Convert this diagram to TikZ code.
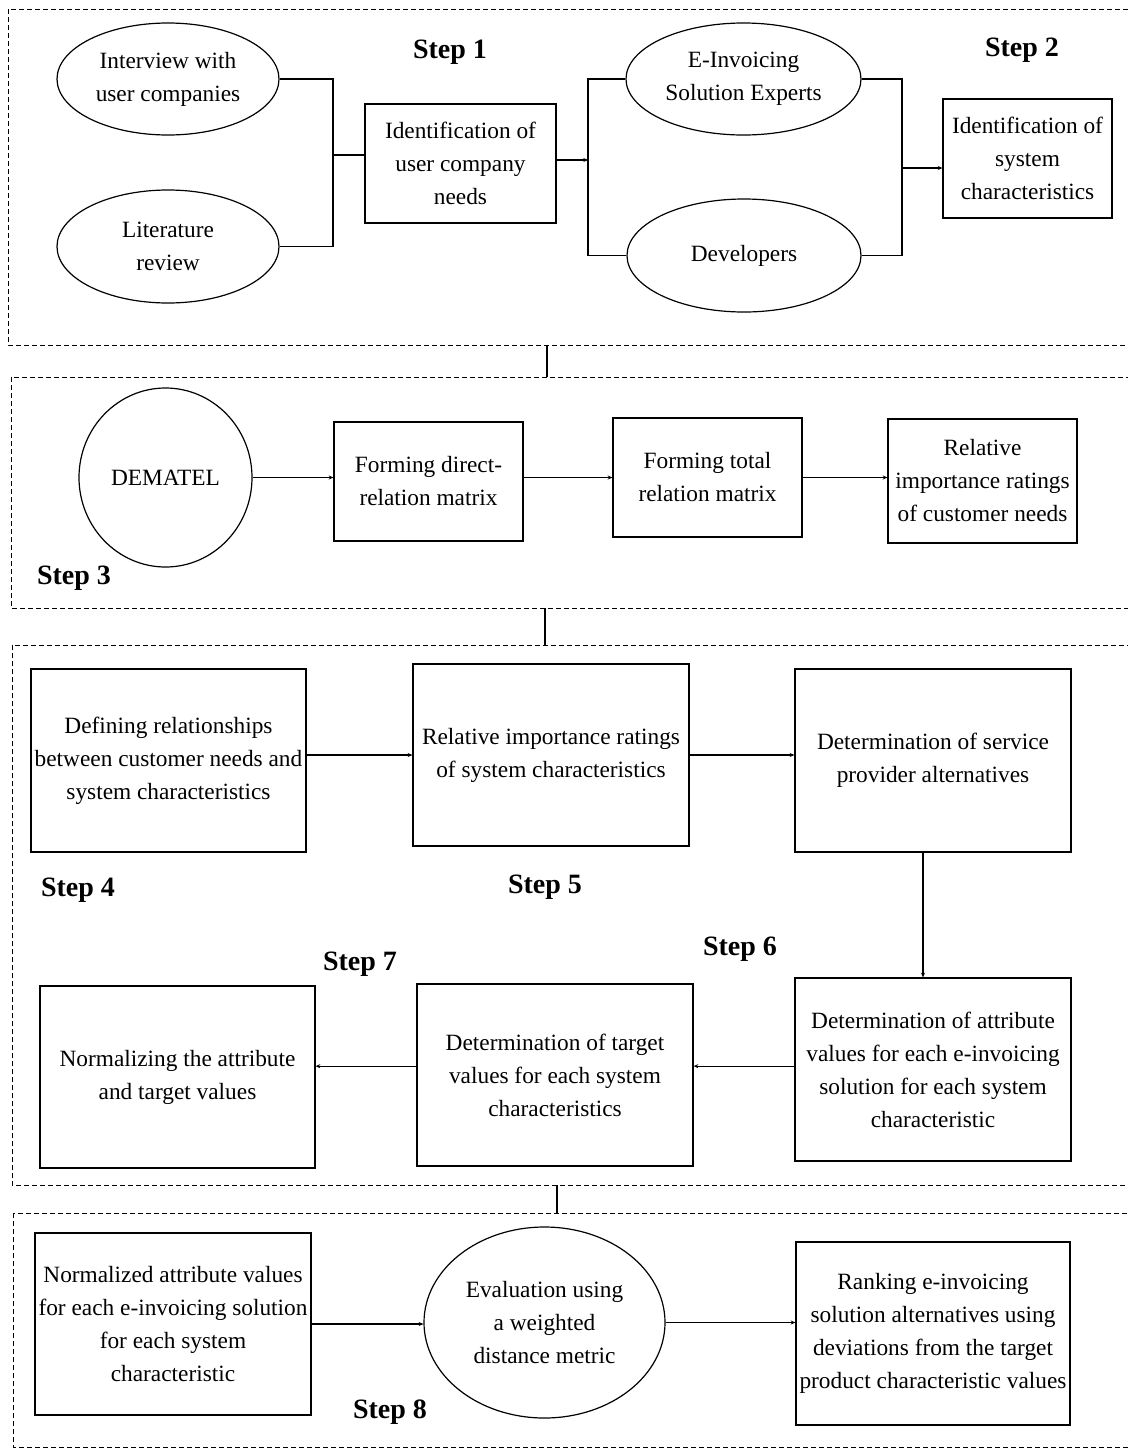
\documentclass[tikz,border=0pt]{standalone}
\usepackage{fontspec}
\setmainfont{Liberation Serif}
\usetikzlibrary{shapes.geometric,arrows.meta}
\newlength{\upx}
\setlength{\upx}{0.75pt}
\begin{document}
\begin{tikzpicture}[x=0.75pt,y=-0.75pt,
  txt/.style={font=\fontsize{17.5}{24.75}\selectfont, align=center, inner sep=0pt},
  box/.style={txt, draw, line width=0.9pt, rectangle},
  oval/.style={txt, draw, line width=0.9pt, ellipse},
  steplabel/.style={font=\fontsize{21}{24}\selectfont\bfseries, inner sep=0pt},
  dashbox/.style={line width=0.7pt, dash pattern=on 3.5pt off 2.5pt},
  conn/.style={line width=0.9pt},
  arr/.style={line width=0.9pt, -{Stealth[length=3.5pt,width=3pt]}}]
\useasboundingbox (0,0) rectangle (1128,1450);
\clip (0,0) rectangle (1128,1450);
\fill[white] (0,0) rectangle (1128,1450);

% section frames
\draw[dashbox] (8,9) rectangle (1140,345);
\draw[dashbox] (11,377) rectangle (1140,608);
\draw[dashbox] (12,645) rectangle (1140,1185);
\draw[dashbox] (13,1213) rectangle (1140,1447);
\coordinate (s1a) at (547,345); \coordinate (s1b) at (547,377);
\coordinate (s2a) at (545,608); \coordinate (s2b) at (545,645);
\coordinate (s3a) at (557,1185); \coordinate (s3b) at (557,1213);
\draw[conn] (s1a) -- (s1b);
\draw[conn] (s2a) -- (s2b);
\draw[conn] (s3a) -- (s3b);

% ---------- Section 1 ----------
\node[oval, minimum width=222\upx, minimum height=112\upx] (int) at (168,79) {Interview with\\user companies};
\node[oval, minimum width=222\upx, minimum height=113\upx] (lit) at (168,246.5) {Literature\\review};
\node[box, minimum width=191\upx, minimum height=119\upx] (idn) at (460.5,163.5) {Identification of\\user company\\needs};
\node[oval, minimum width=235\upx, minimum height=112\upx] (ex) at (743.5,79) {E-Invoicing\\Solution Experts};
\node[oval, minimum width=234\upx, minimum height=113\upx] (dev) at (744,255.5) {Developers};
\node[box, minimum width=169\upx, minimum height=119\upx] (sys) at (1027.5,158.5) {Identification of\\system\\characteristics};
\node[steplabel] (st1) at (450,52) {Step 1};
\node[steplabel] (st2) at (1022,50) {Step 2};

\coordinate (j1) at (333,155);
\coordinate (j2) at (588,160);
\coordinate (j3) at (902,168);
\draw[conn] (int.east) -| (j1) |- (lit.east);
\draw[conn] (j1) -- (j1 -| idn.west);
\draw[arr] (idn.east |- j2) -- (j2);
\draw[conn] (ex.west) -| (j2) |- (dev.west);
\draw[conn] (ex.east) -| (j3) |- (dev.east);
\draw[arr] (j3) -- (j3 -| sys.west);

% ---------- Section 2 ----------
\node[oval, minimum width=173\upx, minimum height=179\upx] (dem) at (165.5,477.5) {DEMATEL};
\node[box, minimum width=189\upx, minimum height=119\upx] (fdr) at (428.5,481.5) {Forming direct-\\relation matrix};
\node[box, minimum width=189\upx, minimum height=119\upx] (ftr) at (707.5,477.5) {Forming total\\relation matrix};
\node[box, minimum width=189\upx, minimum height=124\upx] (rir) at (982.5,481) {Relative\\importance ratings\\of customer needs};
\node[steplabel] (st3) at (74,578) {Step 3};
\draw[arr] (dem.east) -- (dem.east -| fdr.west);
\draw[arr] (ftr.west -| fdr.east) -- (ftr.west);
\draw[arr] (ftr.east) -- (ftr.east -| rir.west);

% ---------- Section 3 ----------
\node[box, minimum width=275\upx, minimum height=183\upx] (def) at (168.5,760.5) {Defining relationships\\between customer needs and\\system characteristics};
\node[box, minimum width=276\upx, minimum height=182\upx] (ri2) at (551,755) {Relative importance ratings\\of system characteristics};
\node[box, minimum width=276\upx, minimum height=183\upx] (sp) at (933,760.5) {Determination of service\\provider alternatives};
\node[box, minimum width=276\upx, minimum height=183\upx] (at) at (933,1069.5) {Determination of attribute\\values for each e-invoicing\\solution for each system\\characteristic};
\node[box, minimum width=276\upx, minimum height=182\upx] (tv) at (555,1075) {Determination of target\\values for each system\\characteristics};
\node[box, minimum width=275\upx, minimum height=182\upx] (nm) at (177.5,1077) {Normalizing the attribute\\and target values};
\node[steplabel] (st4) at (78,890) {Step 4};
\node[steplabel] (st5) at (545,887) {Step 5};
\node[steplabel] (st6) at (740,949) {Step 6};
\node[steplabel] (st7) at (360,964) {Step 7};
\draw[arr] (ri2.west -| def.east) -- (ri2.west);
\draw[arr] (ri2.east) -- (ri2.east -| sp.west);
\draw[arr] ([xshift=-7.5pt]sp.south) -- ([xshift=-7.5pt]at.north);
\draw[arr] ([yshift=2.5pt]at.west) -- ([yshift=2.5pt]at.west -| tv.east);
\draw[arr] ([yshift=2.5pt]at.west -| tv.west) -- ([yshift=2.5pt]at.west -| nm.east);

% ---------- Section 4 ----------
\node[box, minimum width=276\upx, minimum height=182\upx] (nv) at (173,1324) {Normalized attribute values\\for each e-invoicing solution\\for each system\\characteristic};
\node[oval, minimum width=241\upx, minimum height=191\upx] (ev) at (544.5,1322.5) {Evaluation using\\a weighted\\distance metric};
\node[box, minimum width=274\upx, minimum height=183\upx] (rk) at (933,1333.5) {Ranking e-invoicing\\solution alternatives using\\deviations from the target\\product characteristic values};
\node[steplabel] (st8) at (390,1412) {Step 8};
\draw[arr] (nv.east) -- (nv.east -| ev.west);
\draw[arr] (ev.east) -- (ev.east -| rk.west);
\end{tikzpicture}
\end{document}
